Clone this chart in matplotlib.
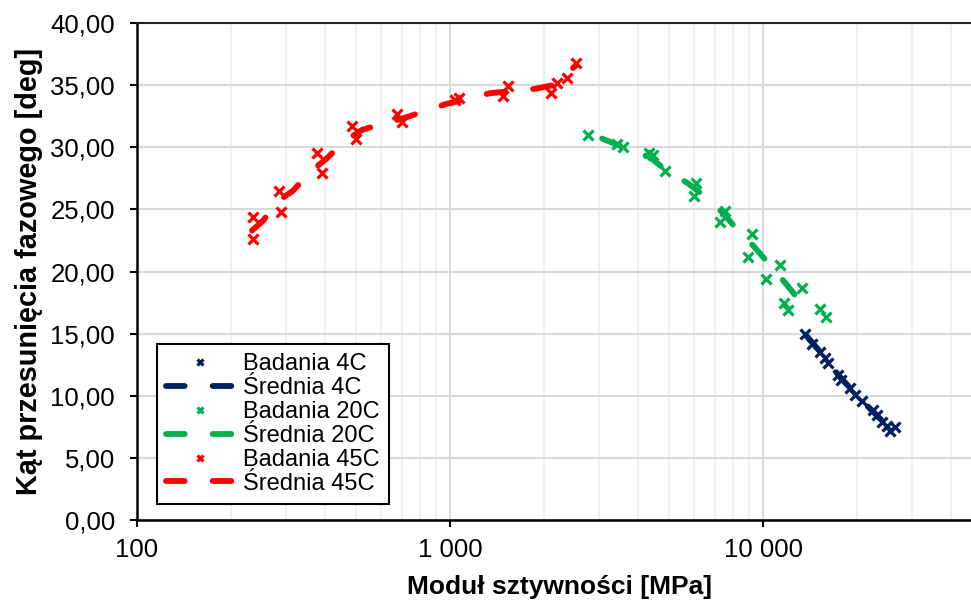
import matplotlib
matplotlib.use("Agg")
import matplotlib.pyplot as plt
from matplotlib.ticker import FixedLocator, FuncFormatter, LogLocator, NullFormatter

plt.rcParams['font.family'] = ['Liberation Sans', 'DejaVu Sans']

# Badania 4C
b4_x = [13620, 14340, 15210, 15780, 16130, 17360, 17750, 18970, 19680, 20720,
        22460, 23130, 23990, 24900, 26410, 25450]
b4_y = [15.0, 14.2, 13.5, 13.0, 12.6, 11.7, 11.3, 10.6, 10.1, 9.6,
        8.85, 8.45, 7.9, 7.6, 7.5, 7.2]
# Srednia 4C
s4_x = [13800, 15500, 17500, 19500, 21500, 24000, 26500]
s4_y = [14.8, 13.3, 11.6, 10.3, 9.2, 8.0, 7.4]

# Badania 20C
b20_x = [2760, 3417, 3570, 4452, 4323, 4864, 6107, 6019, 7559, 7288,
         9223, 8954, 11330, 10220, 13320, 11670, 12020, 15210, 15900]
b20_y = [31.0, 30.3, 30.0, 29.4, 29.5, 28.1, 27.1, 26.1, 24.9, 24.0,
         23.0, 21.2, 20.5, 19.4, 18.7, 17.5, 16.9, 17.0, 16.3]
# Srednia 20C
s20_x = [3062, 3420, 4355, 4866, 5758, 6620, 7450, 8318, 9290, 10380, 11500, 12850, 13940]
s20_y = [30.7, 30.2, 29.2, 28.2, 27.1, 25.9, 24.7, 23.3, 22.1, 20.7, 19.4, 17.9, 16.5]

# Badania 45C
b45_x = [235, 235, 284, 288, 376, 390, 486, 501, 677, 702,
         1068, 1037, 1532, 1477, 2102, 2198, 2365, 2527]
b45_y = [22.6, 24.4, 26.5, 24.8, 29.5, 27.9, 31.7, 30.7, 32.7, 32.0,
         34.0, 33.8, 34.9, 34.1, 34.35, 35.2, 35.6, 36.8]
# Srednia 45C
s45_x = [233, 253, 280, 315, 357, 404, 455, 524, 611, 703, 978, 1343, 1871, 2133, 2531]
s45_y = [23.3, 24.1, 25.6, 26.5, 28.0, 29.1, 30.4, 31.4, 31.9, 32.3, 33.5, 34.35, 34.7, 35.0, 36.6]

c4 = '#002060'
c20 = '#00B050'
c45 = '#FF0000'

fig = plt.figure(figsize=(9.71, 6.03), dpi=100)
ax = fig.add_axes([0.1411, 0.1376, 0.870, 0.8243])

dash = (0, (3.2, 4.8))
mk = dict(marker='x', linestyle='none', markersize=7, markeredgewidth=2.3)
ln = dict(linewidth=4.2, linestyle=dash, dash_capstyle='round')

ax.plot(b4_x, b4_y, color=c4, label='Badania 4C', zorder=3, **mk)
ax.plot(s4_x, s4_y, color=c4, label='Średnia 4C', zorder=2, **ln)
ax.plot(b20_x, b20_y, color=c20, label='Badania 20C', zorder=3, **mk)
ax.plot(s20_x, s20_y, color=c20, label='Średnia 20C', zorder=2, **ln)
ax.plot(b45_x, b45_y, color=c45, label='Badania 45C', zorder=3, **mk)
ax.plot(s45_x, s45_y, color=c45, label='Średnia 45C', zorder=2, **ln)

ax.set_xscale('log')
ax.set_xlim(100, 50000)
ax.set_ylim(0, 40)
ax.set_yticks(range(0, 41, 5))
ax.yaxis.set_major_formatter(FuncFormatter(lambda v, p: ('%.2f' % v).replace('.', ',')))
ax.xaxis.set_major_locator(FixedLocator([100, 1000, 10000]))
ax.xaxis.set_major_formatter(FuncFormatter(lambda v, p: '{:,}'.format(int(v)).replace(',', ' ')))
ax.xaxis.set_minor_locator(LogLocator(base=10, subs=range(2, 10)))
ax.xaxis.set_minor_formatter(NullFormatter())

ax.grid(True, which='major', axis='y', color='#D9D9D9', linewidth=1.5, zorder=0)
ax.grid(True, which='major', axis='x', color='#D9D9D9', linewidth=1.5, zorder=0)
ax.grid(True, which='minor', axis='x', color='#F0F0F0', linewidth=1.5, zorder=0)
ax.set_axisbelow(True)

ax.tick_params(axis='both', which='major', direction='out', length=5, width=1.5,
               labelsize=18.5)
ax.tick_params(axis='y', which='major', pad=11)
ax.tick_params(axis='x', which='major', pad=8)
ax.tick_params(axis='x', which='minor', length=0)

for s in ['left', 'bottom']:
    ax.spines[s].set_linewidth(1.8)
    ax.spines[s].set_color('black')
ax.spines['top'].set_color('#202020')
ax.spines['top'].set_linewidth(1.5)
ax.spines['right'].set_visible(False)

ax.set_xlabel('Moduł sztywności [MPa]', fontsize=19, fontweight='bold', labelpad=9)
ax.set_ylabel('Kąt przesunięcia fazowego [deg]', fontsize=20.8, fontweight='bold', labelpad=5)

leg = ax.legend(loc='lower left', bbox_to_anchor=(0.0237, 0.032), borderaxespad=0,
                fontsize=17, frameon=True, fancybox=False, framealpha=1,
                edgecolor='black', handlelength=2.8, handletextpad=0.42,
                labelspacing=0.08, borderpad=0.4, markerscale=0.7)
leg.get_frame().set_linewidth(1.5)

fig.savefig('out.png', dpi=100)
